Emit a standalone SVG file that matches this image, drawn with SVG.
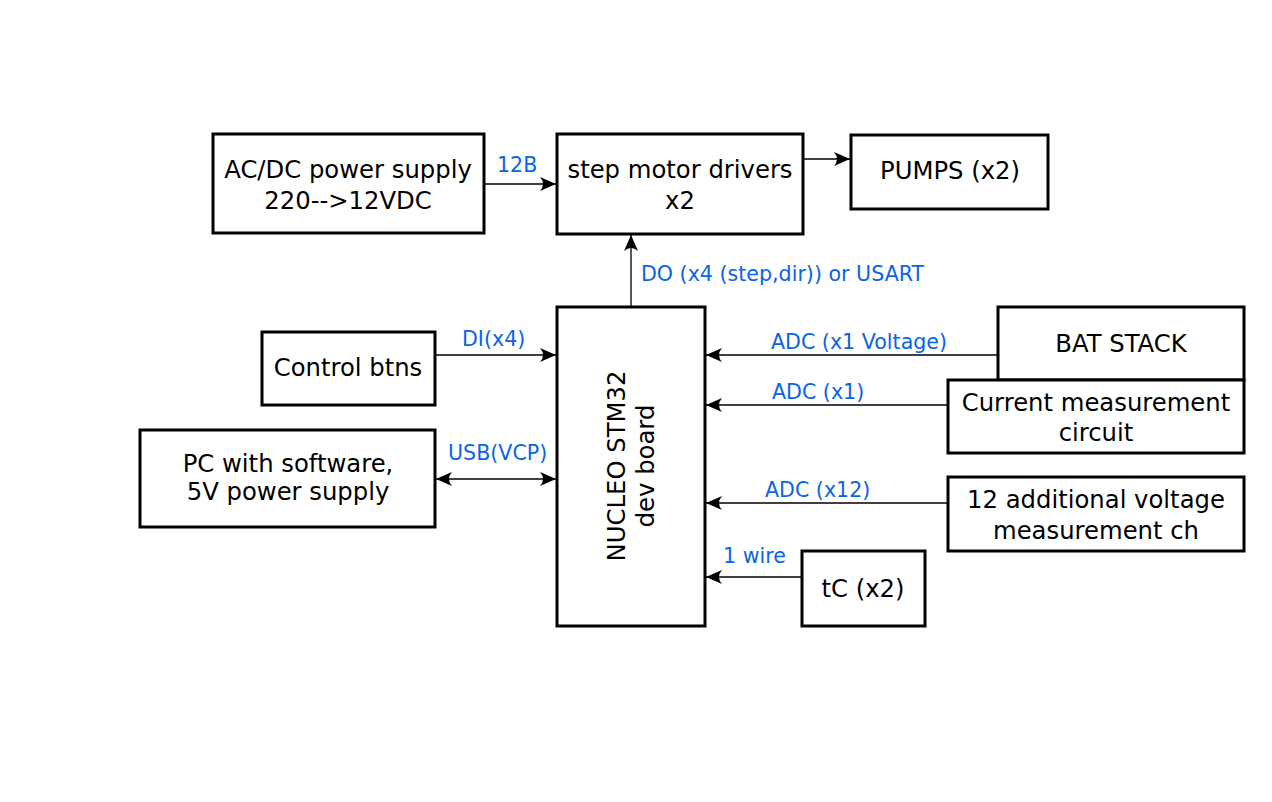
<svg xmlns="http://www.w3.org/2000/svg" width="1272" height="802" viewBox="0 0 1272 802">
<style>
.box{fill:#fff;stroke:#000;stroke-width:3}
.t{font-family:"DejaVu Sans",sans-serif;font-size:24.3px;fill:#000;text-anchor:middle}
.l{font-family:"DejaVu Sans",sans-serif;font-size:20.6px;fill:#0a64e6}
.c{stroke:#000;stroke-width:1.3;fill:none}
</style>
<defs>
<marker id="ah" viewBox="-17 -8 19 16" refX="0" refY="0" markerWidth="19" markerHeight="16" markerUnits="userSpaceOnUse" orient="auto-start-reverse">
<path d="M0,0 L-16,-7 Q-10,0 -16,7 Z" fill="#000"/>
</marker>
</defs>
<rect width="1272" height="802" fill="#fff"/>
<g id="connectors">
<line class="c" x1="484" y1="184" x2="556" y2="184" marker-end="url(#ah)"/>
<line class="c" x1="803" y1="159" x2="850" y2="159" marker-end="url(#ah)"/>
<line class="c" x1="631" y1="307" x2="631" y2="235" marker-end="url(#ah)"/>
<line class="c" x1="435" y1="355" x2="556" y2="355" marker-end="url(#ah)"/>
<line class="c" x1="436" y1="479" x2="556" y2="479" marker-start="url(#ah)" marker-end="url(#ah)"/>
<line class="c" x1="998" y1="355" x2="706" y2="355" marker-end="url(#ah)"/>
<line class="c" x1="948" y1="405" x2="706" y2="405" marker-end="url(#ah)"/>
<line class="c" x1="948" y1="503" x2="706" y2="503" marker-end="url(#ah)"/>
<line class="c" x1="802" y1="577" x2="706" y2="577" marker-end="url(#ah)"/>
<text class="l" x="497" y="172">12B</text>
<text class="l" x="641" y="281">DO (x4 (step,dir)) or USART</text>
<text class="l" x="462" y="346">DI(x4)</text>
<text class="l" x="448" y="460">USB(VCP)</text>
<text class="l" x="771" y="349">ADC (x1 Voltage)</text>
<text class="l" x="772" y="399">ADC (x1)</text>
<text class="l" x="765" y="497">ADC (x12)</text>
<text class="l" x="723" y="563">1 wire</text>
</g>
<g id="acdc">
<rect class="box" x="213" y="134" width="271" height="99"/>
<text class="t" x="348" y="178">AC/DC power supply</text>
<text class="t" x="348" y="209">220--&gt;12VDC</text>
</g>
<g id="drivers">
<rect class="box" x="557" y="134" width="246" height="100"/>
<text class="t" x="680" y="178">step motor drivers</text>
<text class="t" x="680" y="209">x2</text>
</g>
<g id="pumps">
<rect class="box" x="851" y="135" width="197" height="74"/>
<text class="t" x="950" y="179">PUMPS (x2)</text>
</g>
<g id="nucleo">
<rect class="box" x="557" y="307" width="148" height="319"/>
<text class="t" transform="translate(631,466) rotate(-90)" x="0" y="-6">NUCLEO STM32</text>
<text class="t" transform="translate(631,466) rotate(-90)" x="0" y="23">dev board</text>
</g>
<g id="controlbtns">
<rect class="box" x="262" y="332" width="173" height="73"/>
<text class="t" x="348" y="376">Control btns</text>
</g>
<g id="pc">
<rect class="box" x="140" y="430" width="295" height="97"/>
<text class="t" x="288" y="472">PC with software,</text>
<text class="t" x="288" y="500">5V power supply</text>
</g>
<g id="batstack">
<rect class="box" x="998" y="307" width="246" height="73"/>
<text class="t" x="1121" y="352">BAT STACK</text>
</g>
<g id="current">
<rect class="box" x="948" y="380" width="296" height="73"/>
<text class="t" x="1096" y="411">Current measurement</text>
<text class="t" x="1096" y="441">circuit</text>
</g>
<g id="additional">
<rect class="box" x="948" y="477" width="296" height="74"/>
<text class="t" x="1096" y="508">12 additional voltage</text>
<text class="t" x="1096" y="539">measurement ch</text>
</g>
<g id="tc">
<rect class="box" x="802" y="551" width="123" height="75"/>
<text class="t" x="863" y="597">tC (x2)</text>
</g>
</svg>
